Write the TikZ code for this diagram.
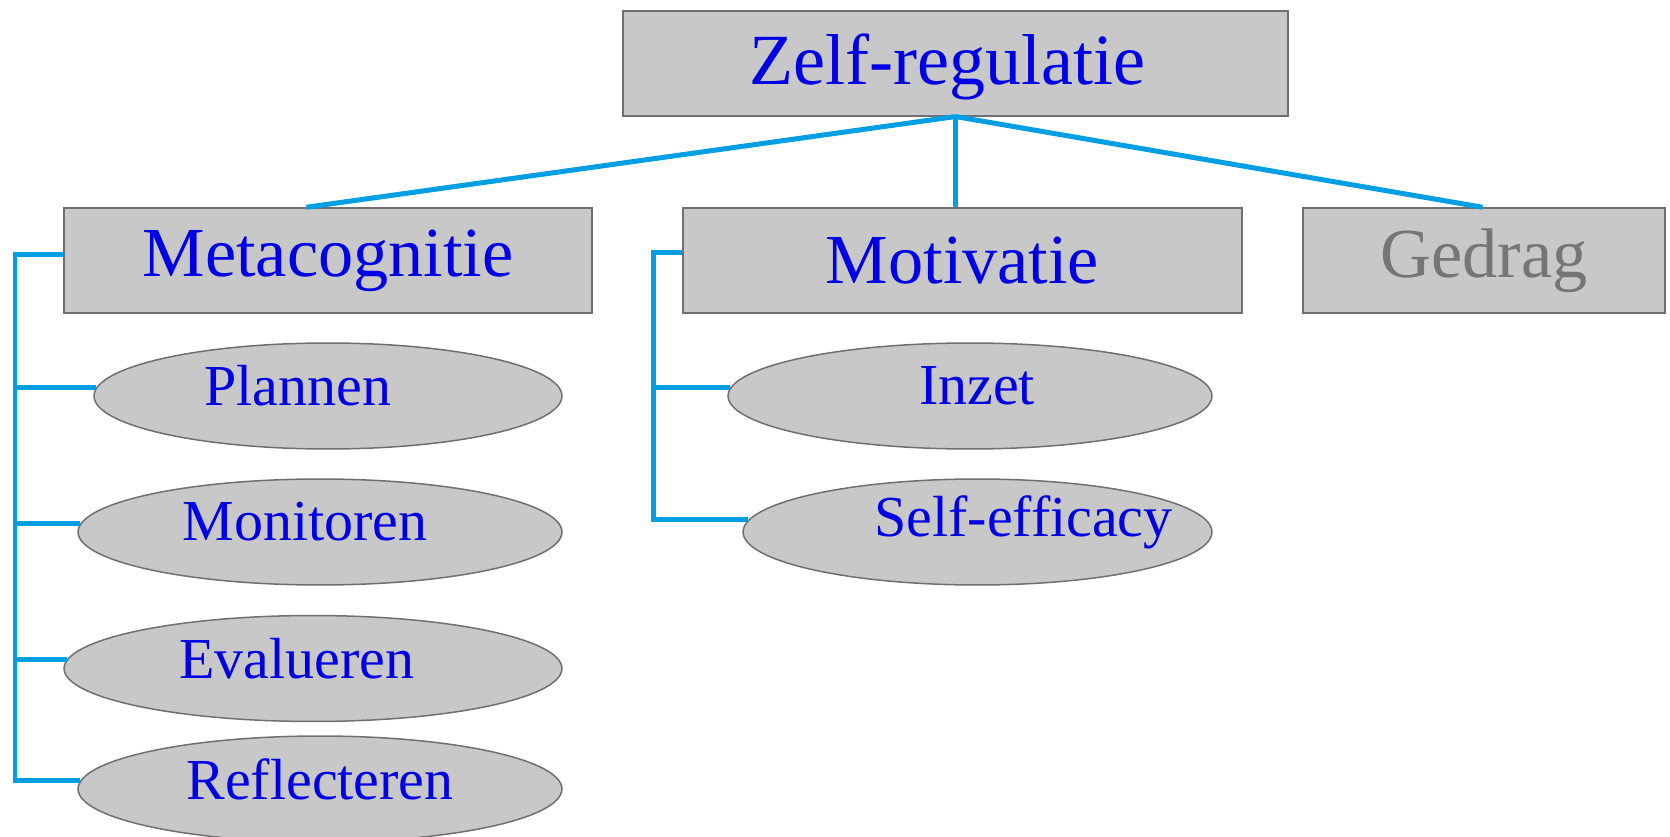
\documentclass[tikz,border=0pt]{standalone}
\usepackage{fontspec}
\setmainfont{Liberation Serif}
\usepackage{tikz}
\usetikzlibrary{shapes.geometric}
\definecolor{boxfill}{RGB}{200,200,200}
\definecolor{boxline}{RGB}{112,112,112}
\definecolor{txtblue}{RGB}{0,0,230}
\definecolor{txtgray}{RGB}{118,118,118}
\definecolor{linkblue}{RGB}{0,158,227}
\tikzset{%
  topic/.style={
    rectangle,
    draw=boxline,
    fill=boxfill,
    line width=0.03cm,
    minimum height=2.1cm,
    inner sep=0pt,
    text=txtblue,
    font=\fontsize{40}{48}\selectfont
  },
  subitem/.style={
    ellipse,
    draw=boxline,
    fill=boxfill,
    line width=0.03cm,
    minimum height=2.12cm,
    inner sep=0pt
  },
  itemtext/.style={
    text=txtblue,
    font=\fontsize{33}{40}\selectfont,
    yshift=0.2cm
  },
  link/.style={
    draw=linkblue,
    line width=0.1cm
  },
}

\begin{document}
\begin{tikzpicture}[x=0.02cm, y=-0.02cm]
\useasboundingbox (0,0) rectangle (1670,837);
\clip (0,0) rectangle (1670,837);

    \node[topic, minimum width=13.3cm, font=\fontsize{41}{49}\selectfont,
          label={[text=txtblue, font=\fontsize{41}{49}\selectfont, xshift=-0.16cm, yshift=-0.08cm]center:Zelf-regulatie}] (zelf) at (955.5,63.3) {};
    \node[topic, minimum width=10.56cm] (meta) at (328,260.5) {Metacognitie};
    \node[topic, minimum width=11.18cm] (moti) at (962.5,260.5) {Motivatie};
    \node[topic, minimum width=7.24cm, text=txtgray] (gedr) at (1484,260.5) {Gedrag};

    \node[subitem, minimum width=9.36cm, label={[itemtext, xshift=-0.6cm]center:Plannen}] (plan) at (328,396) {};
    \node[subitem, minimum width=9.68cm, label={[itemtext, xshift=-0.3cm]center:Monitoren}] (moni) at (320,532) {};
    \node[subitem, minimum width=9.96cm, label={[itemtext, xshift=-0.32cm]center:Evalueren}] (eval) at (313,668.5) {};
    \node[subitem, minimum width=9.68cm, label={[itemtext]center:Reflecteren}] (refl) at (320,789) {};
    \node[subitem, minimum width=9.68cm, label={[itemtext, xshift=0.14cm]center:Inzet}] (inze) at (970,396) {};
    \node[subitem, minimum width=9.38cm, label={[itemtext, xshift=0.92cm]center:Self-efficacy}] (self) at (977.5,532) {};

    \coordinate (mspine) at (15,0);
    \coordinate (vspine) at (653,0);

    \draw[link] (zelf.south) -- ([xshift=-0.43cm]meta.north);
    \draw[link] (zelf.south) -- (zelf.south |- moti.north);
    \draw[link] (zelf.south) -- ([xshift=-0.03cm]gedr.north);

    \draw[link] ([yshift=0.12cm]meta.west) -| (mspine |- refl.178) -- (refl.178);
    \foreach \n in {plan,moni,eval}
        \draw[link] (mspine |- \n.178) -- (\n.178);

    \draw[link] ([yshift=0.16cm]moti.west) -| (vspine |- self.177) -- (self.177);
    \draw[link] (vspine |- inze.178) -- (inze.178);
\end{tikzpicture}
\end{document}
